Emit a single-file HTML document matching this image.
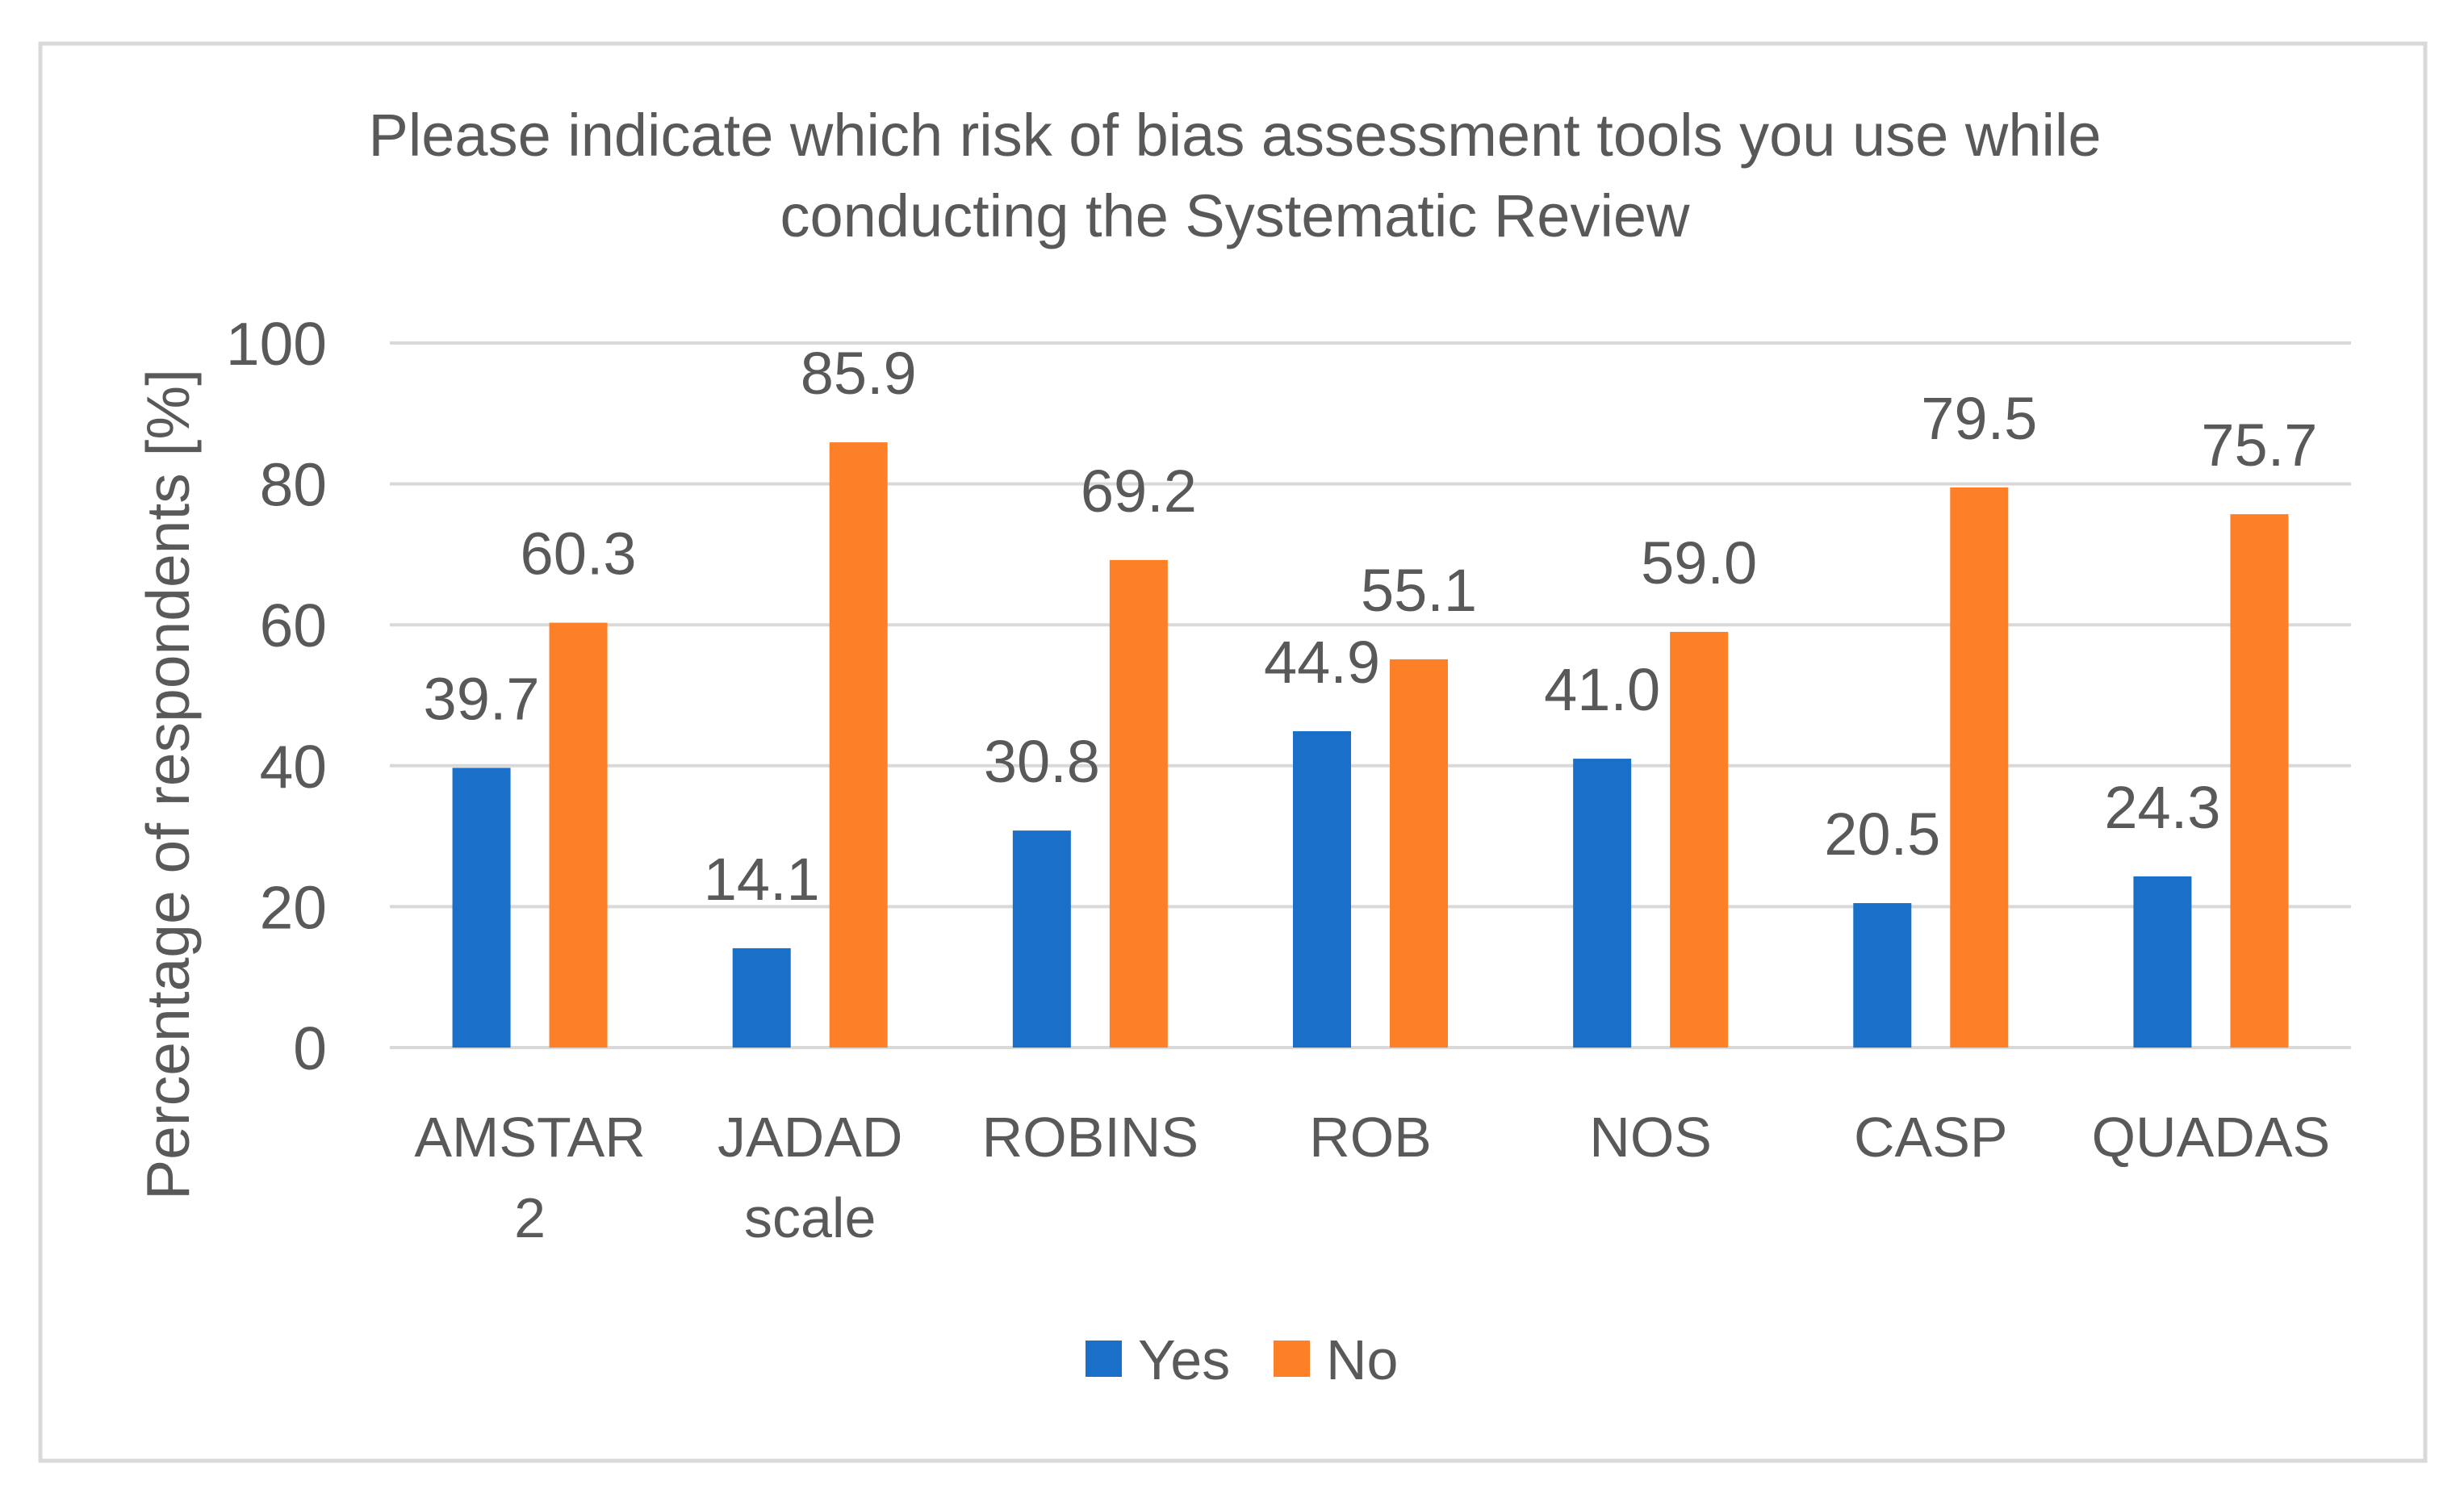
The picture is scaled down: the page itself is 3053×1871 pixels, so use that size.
<!DOCTYPE html>
<html><head><meta charset="utf-8"><style>
html,body{margin:0;padding:0;background:#fff;}
svg{display:block;}
text{font-family:"Liberation Sans",sans-serif;fill:#595959;}
</style></head><body>
<svg id="chart" width="3053" height="1871" xmlns="http://www.w3.org/2000/svg">
<rect x="50" y="54" width="2955" height="1756" fill="#fff" stroke="#d9d9d9" stroke-width="5"/>
<text x="1530" y="193" font-size="74" text-anchor="middle">Please indicate which risk of bias assessment tools you use while</text>
<text x="1530" y="293" font-size="74" text-anchor="middle">conducting the Systematic Review</text>
<text transform="translate(234,972) rotate(-90)" font-size="75" text-anchor="middle">Percentage of respondents [%]</text>
<g id="grid"></g><g id="bars"></g><g id="labels"></g>
<g>
<rect x="1345" y="1661" width="45" height="45" fill="#1a70c8"/>
<text x="1410" y="1709" font-size="70">Yes</text>
<rect x="1578" y="1661" width="45" height="45" fill="#fd7f28"/>
<text x="1643" y="1709" font-size="70">No</text>
</g>
</svg>
<script>
const categories=[["AMSTAR","2"],["JADAD","scale"],["ROBINS"],["ROB"],["NOS"],["CASP"],["QUADAS"]];
const yesValues=[39.7,14.1,30.8,44.9,41.0,20.5,24.3];
const noValues=[60.3,85.9,69.2,55.1,59.0,79.5,75.7];
const yTicks=[0,20,40,60,80,100];
const NS="http://www.w3.org/2000/svg";
const L=483,R=2913,T=425,B=1298;
const y=v=>B-(v/100)*(B-T);
const cw=(R-L)/categories.length;
const xc=i=>L+cw*(i+0.5);
function mk(tag,attrs,parent,txt){const e=document.createElementNS(NS,tag);for(const k in attrs)e.setAttribute(k,attrs[k]);if(txt!==undefined)e.textContent=txt;parent.appendChild(e);return e;}
const grid=document.getElementById('grid'),bars=document.getElementById('bars'),labels=document.getElementById('labels');
yTicks.forEach(t=>{
 const l=mk('line',{x1:L,x2:R,y1:y(t),y2:y(t),stroke:'#d9d9d9','stroke-width':4},grid);
 
 
 const tx=mk('text',{x:405,y:y(t)+27,'font-size':75,'text-anchor':'end'},grid,String(t));
 
 
});
const bw=72,off=60;
categories.forEach((c,i)=>{
 [[yesValues[i],-off,'#1a70c8','yes'],[noValues[i],off,'#fd7f28','no']].forEach(([v,o,col,s])=>{
  const cx=xc(i)+o;
  const r=mk('rect',{x:cx-bw/2,y:y(v),width:bw,height:B-y(v),fill:col},bars);
  
  
  const t=mk('text',{x:cx,y:y(v)-60,'font-size':74,'text-anchor':'middle'},labels,v.toFixed(1));
  
  
 });
 c.forEach((line,j)=>{
  const t=mk('text',{x:xc(i),y:1433+j*100,'font-size':70,'text-anchor':'middle'},labels,line);
  
  
 });
});
</script>
</body></html>
